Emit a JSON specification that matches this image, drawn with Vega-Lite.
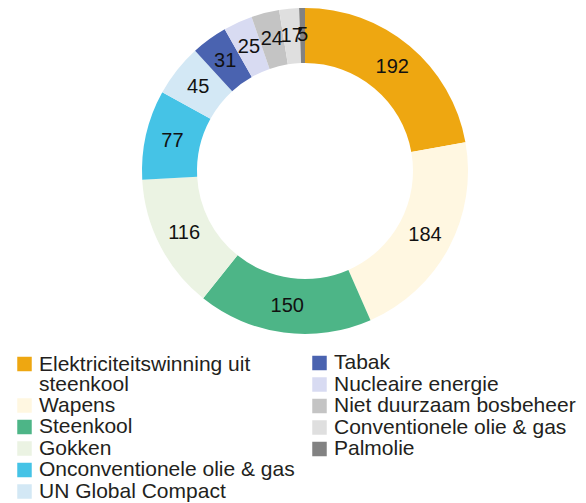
{
  "$schema": "https://vega.github.io/schema/vega-lite/v6.json",
  "width": 562,
  "height": 342,
  "autosize": {"type": "none"},
  "padding": {"left": 24, "top": 0, "right": 0, "bottom": 161},
  "background": "white",
  "config": {
    "view": {"stroke": null},
    "font": "Liberation Sans",
    "legend": {
      "title": null,
      "orient": "none",
      "direction": "vertical",
      "padding": 0,
      "symbolType": "square",
      "symbolSize": 210,
      "symbolStrokeWidth": 0,
      "labelFont": "Liberation Sans",
      "labelFontSize": 21,
      "labelColor": "#231f20",
      "labelOffset": 4,
      "labelLimit": 400,
      "rowPadding": -0.5
    }
  },
  "data": {
    "values": [
      {"cat": "Elektriciteitswinning uit steenkool", "value": 192, "rank": 1},
      {"cat": "Wapens", "value": 184, "rank": 2},
      {"cat": "Steenkool", "value": 150, "rank": 3},
      {"cat": "Gokken", "value": 116, "rank": 4},
      {"cat": "Onconventionele olie & gas", "value": 77, "rank": 5},
      {"cat": "UN Global Compact", "value": 45, "rank": 6},
      {"cat": "Tabak", "value": 31, "rank": 7},
      {"cat": "Nucleaire energie", "value": 25, "rank": 8},
      {"cat": "Niet duurzaam bosbeheer", "value": 24, "rank": 9},
      {"cat": "Conventionele olie & gas", "value": 17, "rank": 10},
      {"cat": "Palmolie", "value": 5, "rank": 11}
    ]
  },
  "transform": [
    {"stack": "value", "groupby": [], "sort": [{"field": "rank", "order": "ascending"}], "as": ["v0", "v1"]}
  ],
  "layer": [
    {
      "transform": [{"filter": {"field": "cat", "oneOf": ["Elektriciteitswinning uit steenkool"]}}],
      "mark": {"type": "arc", "radius": 163, "radius2": 108},
      "encoding": {
        "theta": {"field": "v0", "type": "quantitative", "stack": null},
        "theta2": {"field": "v1"},
        "color": {
          "field": "cat",
          "type": "nominal",
          "scale": {"domain": ["Elektriciteitswinning uit steenkool"], "range": ["#eea711"]},
          "legend": {
            "legendX": -10,
            "legendY": 353.5,
            "labelBaseline": "top",
            "labelExpr": "datum.label == 'Elektriciteitswinning uit steenkool' ? ['Elektriciteitswinning uit', 'steenkool'] : datum.label",
            "encode": {"labels": {"update": {"dy": {"value": -10}, "lineHeight": {"value": 20}}}}
          }
        }
      }
    },
    {
      "transform": [{"filter": {"field": "cat", "oneOf": ["Wapens", "Steenkool", "Gokken", "Onconventionele olie & gas", "UN Global Compact"]}}],
      "mark": {"type": "arc", "radius": 163, "radius2": 108},
      "encoding": {
        "theta": {"field": "v0", "type": "quantitative", "stack": null},
        "theta2": {"field": "v1"},
        "color": {
          "field": "cat",
          "type": "nominal",
          "scale": {
            "domain": ["Wapens", "Steenkool", "Gokken", "Onconventionele olie & gas", "UN Global Compact"],
            "range": ["#fff7e1", "#4db587", "#ebf3e3", "#45c3e6", "#d3e8f5"]
          },
          "legend": {"legendX": -10, "legendY": 395}
        }
      }
    },
    {
      "transform": [{"filter": {"field": "cat", "oneOf": ["Tabak", "Nucleaire energie", "Niet duurzaam bosbeheer", "Conventionele olie & gas", "Palmolie"]}}],
      "mark": {"type": "arc", "radius": 163, "radius2": 108},
      "encoding": {
        "theta": {"field": "v0", "type": "quantitative", "stack": null},
        "theta2": {"field": "v1"},
        "color": {
          "field": "cat",
          "type": "nominal",
          "scale": {
            "domain": ["Tabak", "Nucleaire energie", "Niet duurzaam bosbeheer", "Conventionele olie & gas", "Palmolie"],
            "range": ["#4a63b0", "#d8dbf2", "#c4c4c4", "#dfdfdf", "#828282"]
          },
          "legend": {"legendX": 285, "legendY": 352.5}
        }
      }
    },
    {
      "mark": {"type": "text", "radius": 136, "fontSize": 20, "font": "Liberation Sans", "color": "#111111"},
      "encoding": {
        "theta": {"field": "value", "type": "quantitative", "stack": true},
        "order": {"field": "rank", "type": "quantitative"},
        "text": {"field": "value", "type": "quantitative"}
      }
    }
  ],
  "resolve": {"scale": {"color": "independent"}, "legend": {"color": "independent"}}
}
